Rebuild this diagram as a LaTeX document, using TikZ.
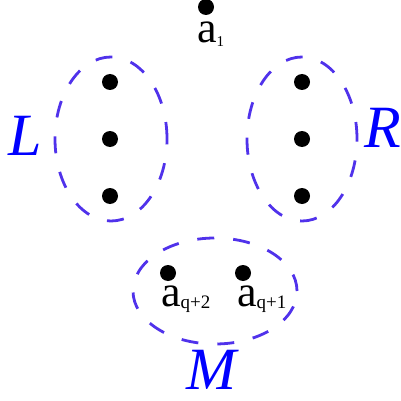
\documentclass[tikz,border=0pt]{standalone}
\usepackage{fontspec}
\setmainfont{Liberation Serif}
\usetikzlibrary{shapes.geometric}
\definecolor{grpblue}{RGB}{80,50,235}
\newcommand{\subt}[3]{\raisebox{-#2}{\fontsize{#1}{#1}\selectfont #3}}
\begin{document}
\begin{tikzpicture}[x=1pt,y=-1pt,
  dot/.style={circle,fill=black,inner sep=0pt,minimum size=16pt},
  grp/.style={ellipse,draw=grpblue,line width=2.8pt,dash pattern=on 17pt off 19pt,inner sep=0pt},
  lab/.style={inner sep=0pt,anchor=base west,text depth=0pt,font=\fontsize{44}{44}\selectfont},
  big/.style={inner sep=0pt,anchor=base west,text depth=0pt,text=blue,font=\fontsize{60}{60}\selectfont\itshape}]
\useasboundingbox (0,0) rectangle (400,401);
% groups
\node[grp,minimum width=112pt,minimum height=164pt] (Lg) at (111,139) {};
\node[grp,minimum width=110pt,minimum height=164pt] (Rg) at (302,139) {};
\node[grp,minimum width=164pt,minimum height=106pt] (Mg) at (215,291) {};
% dots
\node[dot] (a1) at (206,7) {};
\node[dot] (l1) at (110,82) {};
\node[dot] (l2) at (110,139) {};
\node[dot] (l3) at (110,196) {};
\node[dot] (r1) at (302,82) {};
\node[dot] (r2) at (302,139) {};
\node[dot] (r3) at (302,196) {};
\node[dot] (m2) at (168,273) {};
\node[dot] (m1) at (243,273) {};
% labels
\node[lab] (ta1) at (197,43) {a\subt{15}{4pt}{1}};
\node[lab] (tm2) at (161,306) {a\subt{19}{2pt}{q+2}};
\node[lab] (tm1) at (237,306) {a\subt{19}{2pt}{q+1}};
\node[big] (tL) at (8,155) {L};
\node[big] (tR) at (364,147) {R};
\node[big] (tM) at (186,389) {M};
\end{tikzpicture}
\end{document}
